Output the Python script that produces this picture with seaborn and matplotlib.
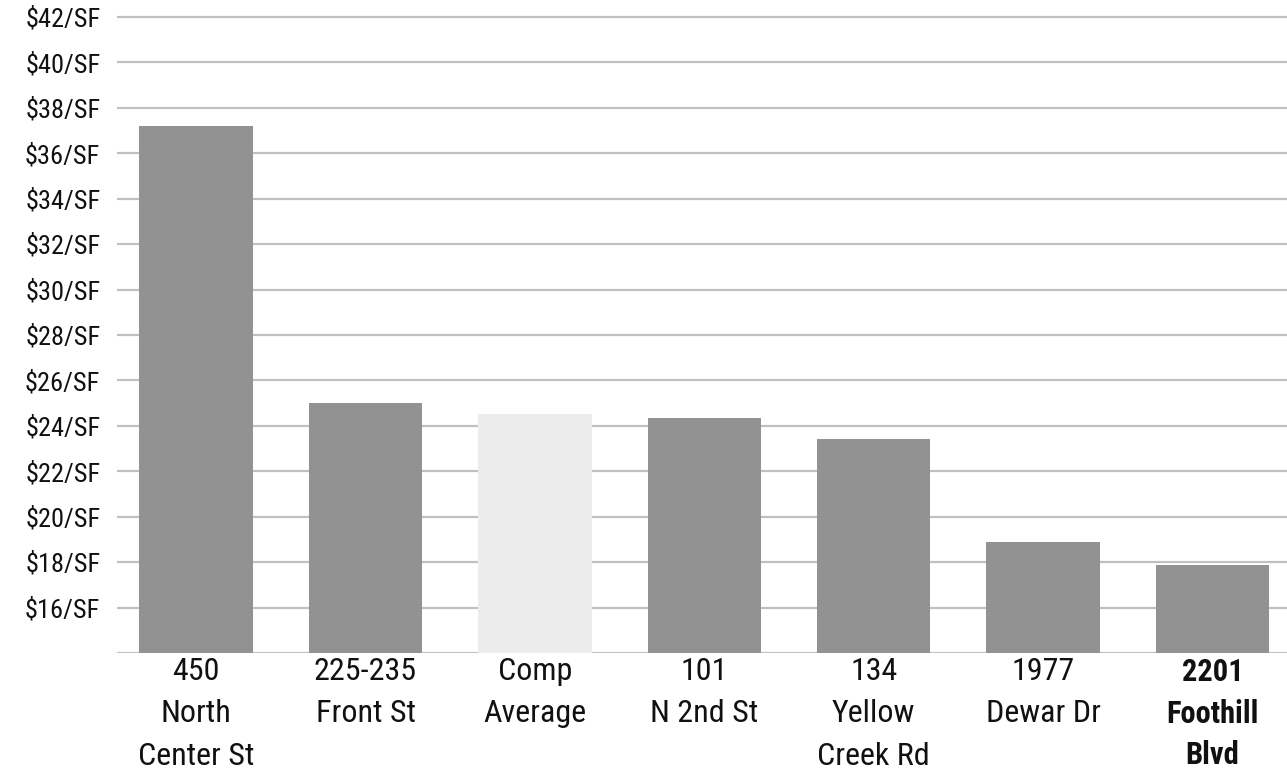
import matplotlib
matplotlib.use("Agg")
import matplotlib.pyplot as plt
import seaborn as sns
import pandas as pd
from matplotlib import font_manager

categories = ["450\nNorth\nCenter St", "225-235\nFront St", "Comp\nAverage",
              "101\nN 2nd St", "134\nYellow\nCreek Rd", "1977\nDewar Dr",
              "2201\nFoothill\nBlvd"]
rent_psf = [37.2, 25.0, 24.5, 24.33, 23.4, 18.87, 17.86]
bar_colors = ["#939293", "#939293", "#ececec", "#939293", "#939293", "#939293", "#939293"]
y_ticks = list(range(16, 43, 2))
y_tick_labels = [f"${v}/SF" for v in y_ticks]

df = pd.DataFrame({"property": categories, "rent": rent_psf})

sns.set_theme(style="white")
installed = {f.name for f in font_manager.fontManager.ttflist}
candidates = ["Liberation Sans Narrow", "Roboto Condensed", "Archivo Narrow",
              "PT Sans Narrow", "DejaVu Sans Condensed", "DejaVu Sans"]
fam = next(c for c in candidates if c in installed or c == "DejaVu Sans")
plt.rcParams["font.family"] = [fam, "DejaVu Sans"]
big = fam != "DejaVu Sans"

fig = plt.figure(figsize=(12.87, 7.78), dpi=100)
ax = fig.add_axes([117 / 1287, 0.1607, 1 - 117 / 1287, 0.984 - 0.1607])

sns.barplot(data=df, x="property", y="rent", hue="property",
            palette=dict(zip(categories, bar_colors)), legend=False,
            width=0.67, saturation=1, linewidth=0, ax=ax, zorder=3)

ax.set_ylim(14, 42.2)
ax.set_xlim(-0.467, 6.44)
ax.set_yticks(y_ticks)
ax.set_yticklabels(y_tick_labels, fontsize=19 if big else 15.5, color="#111111")
ax.yaxis.grid(True, color="#c0c0c0", linewidth=1.6, zorder=0)
ax.axhline(14, color="#c0c0c0", linewidth=1.6, zorder=2)
ax.set_axisbelow(True)
ax.tick_params(axis="y", length=0, pad=12)
ax.tick_params(axis="x", length=0, pad=3)
ax.set_xticks(range(len(categories)))
ax.set_xticklabels(categories, fontsize=23 if big else 20, linespacing=1.58, color="#111111")
last = ax.get_xticklabels()[-1]
last.set_fontweight("bold")
last.set_fontsize(22 if big else 19)
last.set_linespacing(1.48)
ax.set_xlabel("")
ax.set_ylabel("")
for s in ax.spines.values():
    s.set_visible(False)

fig.savefig("out.png", dpi=100)
